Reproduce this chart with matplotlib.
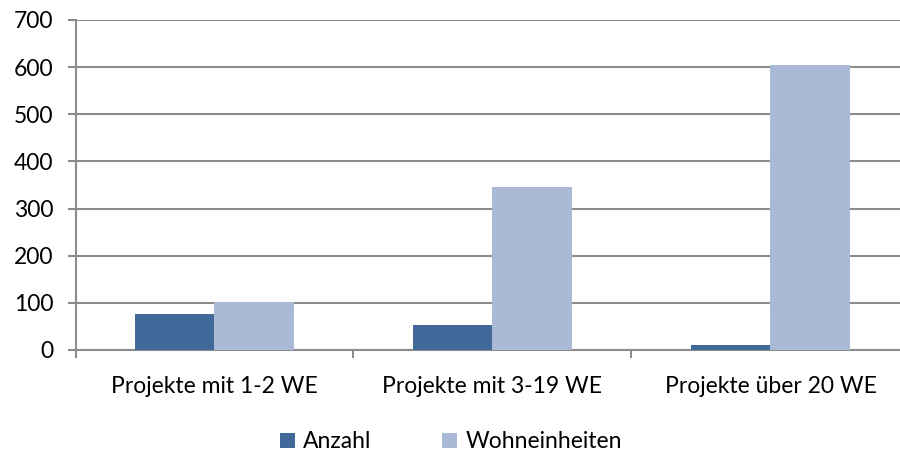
import matplotlib
matplotlib.use("Agg")
import matplotlib.pyplot as plt
import numpy as np

categories = ["Projekte mit 1-2 WE", "Projekte mit 3-19 WE", "Projekte über 20 WE"]
anzahl = [77, 53, 10]
wohneinheiten = [101, 345, 605]
series_names = ["Anzahl", "Wohneinheiten"]
yticks = [0, 100, 200, 300, 400, 500, 600, 700]

plt.rcParams['font.family'] = ['Lato', 'DejaVu Sans']
fig = plt.figure(figsize=(9, 4.54), dpi=100)
ax = fig.add_axes([75.5/900, 1-350/454, (909.5-75.5)/900, 330/454])

x = np.arange(len(categories))
w = 1/3.5
c1 = "#416A9B"
c2 = "#AAB9D6"
ax.bar(x - w/2, anzahl, w, color=c1, label=series_names[0], zorder=3)
ax.bar(x + w/2, wohneinheiten, w, color=c2, label=series_names[1], zorder=3)

ax.set_xlim(-0.5, len(categories) - 0.5)
ax.set_ylim(0, 700)
ax.set_yticks(yticks)
ax.set_yticklabels([str(v) for v in yticks], fontsize=16.5)
ax.yaxis.grid(True, color="#8C8C8C", linewidth=1.5, zorder=0)
ax.set_axisbelow(True)

ax.set_xticks(x)
ax.set_xticklabels(categories, fontsize=16.5)
ax.set_xticks(np.arange(len(categories) + 1) - 0.5, minor=True)
ax.tick_params(axis='x', which='major', length=0, pad=19)
ax.tick_params(axis='x', which='minor', length=6, width=1.5, color="#8C8C8C")
ax.tick_params(axis='y', length=6, width=1.5, color="#8C8C8C", pad=10)

for s in ['top', 'right']:
    ax.spines[s].set_visible(False)
for s in ['left', 'bottom']:
    ax.spines[s].set_color("#8C8C8C")
    ax.spines[s].set_linewidth(1.5)

leg = fig.legend(loc='center', bbox_to_anchor=(451/900, 1-442/454), ncol=2, frameon=False,
                 fontsize=16.5, handlelength=0.65, handleheight=0.65, handletextpad=0.35,
                 columnspacing=3.1)

fig.savefig("out.png", dpi=100)
